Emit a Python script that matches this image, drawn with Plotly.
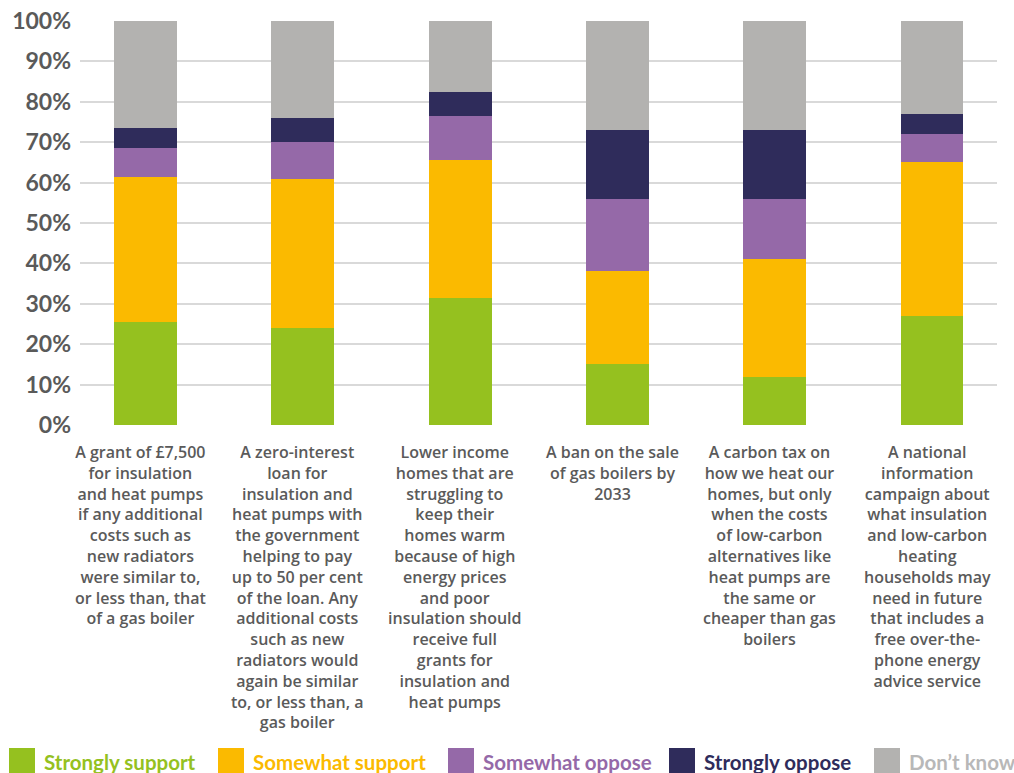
import plotly.graph_objects as go

categories = [
    "A grant of £7,500<br>for insulation<br>and heat pumps<br>if any additional<br>costs such as<br>new radiators<br>were similar to,<br>or less than, that<br>of a gas boiler",
    "A zero-interest<br>loan for<br>insulation and<br>heat pumps with<br>the government<br>helping to pay<br>up to 50 per cent<br>of the loan. Any<br>additional costs<br>such as new<br>radiators would<br>again be similar<br>to, or less than, a<br>gas boiler",
    "Lower income<br>homes that are<br>struggling to<br>keep their<br>homes warm<br>because of high<br>energy prices<br>and poor<br>insulation should<br>receive full<br>grants for<br>insulation and<br>heat pumps",
    "A ban on the sale<br>of gas boilers by<br>2033",
    "A carbon tax on<br>how we heat our<br>homes, but only<br>when the costs<br>of low-carbon<br>alternatives like<br>heat pumps are<br>the same or<br>cheaper than gas<br>boilers",
    "A national<br>information<br>campaign about<br>what insulation<br>and low-carbon<br>heating<br>households may<br>need in future<br>that includes a<br>free over-the-<br>phone energy<br>advice service",
]

series_names = ["Strongly support", "Somewhat support", "Somewhat oppose", "Strongly oppose", "Don’t know"]
strongly_support = [25.5, 24, 31.5, 15, 12, 27]
somewhat_support = [36, 37, 34, 23, 29, 38]
somewhat_oppose = [7, 9, 11, 18, 15, 7]
strongly_oppose = [5, 6, 6, 17, 17, 5]
dont_know = [26.5, 24, 17.5, 27, 27, 23]
series_values = [strongly_support, somewhat_support, somewhat_oppose, strongly_oppose, dont_know]

colors = ["#95C11F", "#FBBA00", "#9569A8", "#2F2C5B", "#B3B2B0"]
legend_text_colors = ["#95C11F", "#FBBA00", "#9569A8", "#2F2C5B", "#B8B8B8"]

ytick_vals = list(range(0, 101, 10))
ytick_text = [f"{v}%" for v in ytick_vals]

FONT = "Lato"
LABEL_FONT = "Open Sans"
TEXT_GREY = "#5A5A5A"

x_idx = list(range(len(categories)))

fig = go.Figure()
for name, vals, col in zip(series_names, series_values, colors):
    fig.add_trace(go.Bar(
        x=x_idx, y=vals, name=name,
        marker=dict(color=col, line=dict(width=0)),
        width=0.40,
        showlegend=False,
        hoverinfo="name+y",
    ))

W, H = 1014, 773
plot_left, plot_right, plot_top, plot_bottom = 80, 997, 21, 425

fig.update_layout(
    width=W, height=H,
    barmode="stack",
    bargap=0,
    plot_bgcolor="white",
    paper_bgcolor="white",
    margin=dict(l=plot_left, r=W - plot_right, t=plot_top, b=H - plot_bottom, pad=0, autoexpand=False),
    font=dict(family=FONT, color=TEXT_GREY),
)

fig.update_xaxes(
    range=[-0.416, 5.413],
    showticklabels=False,
    showgrid=False,
    zeroline=False,
    showline=False,
    ticks="",
    automargin=False,
)
fig.update_yaxes(
    range=[0, 100],
    tickvals=ytick_vals,
    ticktext=ytick_text,
    tickfont=dict(family=FONT, size=23, color=TEXT_GREY, weight="bold"),
    showgrid=True,
    gridcolor="#D9D9D9",
    gridwidth=1.5,
    zeroline=False,
    showline=False,
    ticks="",
    ticklabelstandoff=8,
    automargin=False,
)

# category labels below bars
for i, lab in enumerate(categories):
    fig.add_annotation(
        x=i, y=0, xref="x", yref="y",
        text=lab, showarrow=False,
        xanchor="center", yanchor="top",
        xshift=-5, yshift=-14,
        align="center",
        font=dict(family=LABEL_FONT, size=16, color=TEXT_GREY, weight=600),
    )

# manual legend with large square swatches
legend_swatch_x = [9, 218, 448, 669, 874]
sw = 26
y_top_px, y_bot_px = 748, 774
for name, col, tcol, sx in zip(series_names, colors, legend_text_colors, legend_swatch_x):
    fig.add_shape(
        type="rect", xref="paper", yref="paper",
        x0=(sx - plot_left) / (plot_right - plot_left),
        x1=(sx + sw - plot_left) / (plot_right - plot_left),
        y0=(plot_bottom - y_bot_px) / (plot_bottom - plot_top),
        y1=(plot_bottom - y_top_px) / (plot_bottom - plot_top),
        fillcolor=col, line=dict(width=0), layer="above",
    )
    fig.add_annotation(
        xref="paper", yref="paper",
        x=(sx + sw + 7 - plot_left) / (plot_right - plot_left),
        y=(plot_bottom - 762) / (plot_bottom - plot_top),
        text=name, showarrow=False,
        xanchor="left", yanchor="middle",
        font=dict(family=FONT, size=20.5, color=tcol, weight="bold"),
    )

fig.write_html("out.html")
